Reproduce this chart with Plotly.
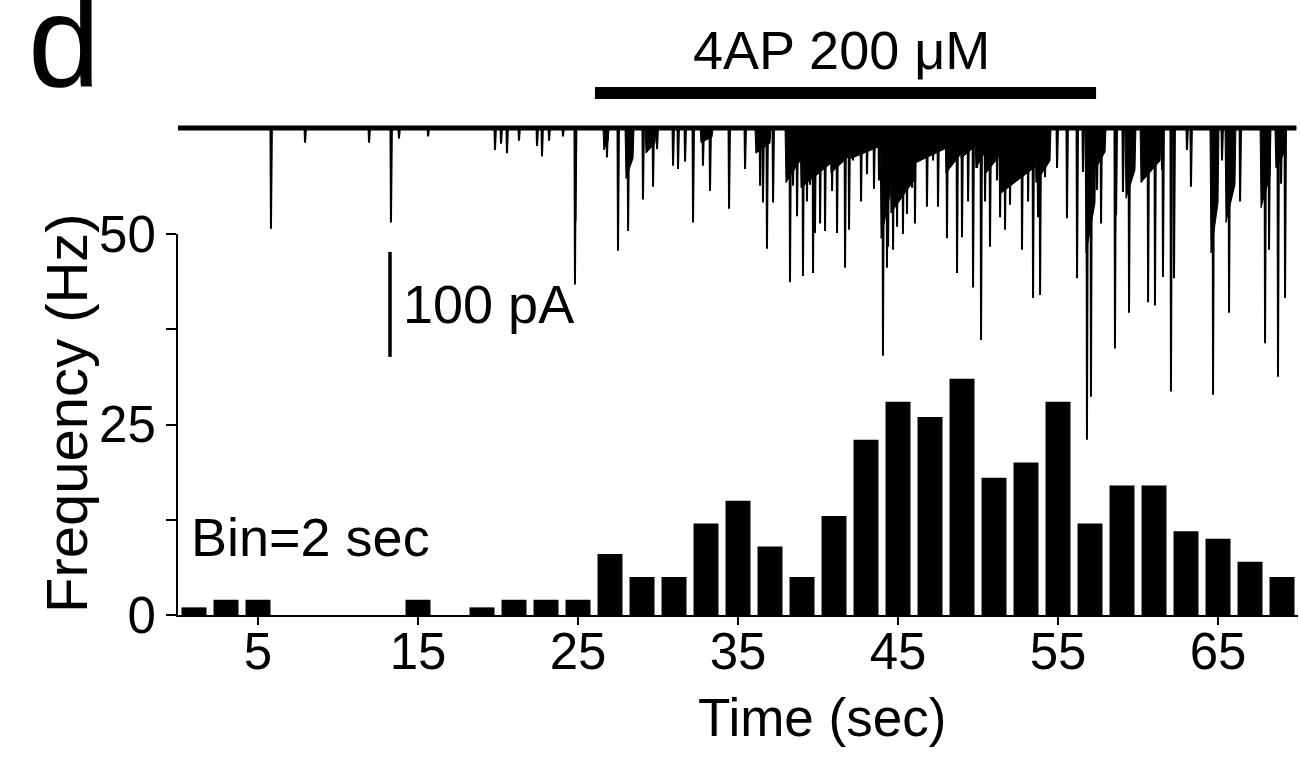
import plotly.graph_objects as go

# ---------------- data ----------------
bin_centers = [1 + 2 * i for i in range(35)]
freq_hz = [1, 2, 2, 0, 0, 0, 0, 2, 0, 1, 2, 2, 2, 8, 5, 5, 12, 15, 9, 5,
           13, 23, 28, 26, 31, 18, 20, 28, 12, 17, 17, 11, 10, 7, 5]

x_ticks = [5, 15, 25, 35, 45, 55, 65]
y_ticks = [0, 12.5, 25, 37.5, 50]
y_ticktext = ["0", "", "25", "", "50"]

# current trace: individual events (time s, amplitude pA, downward)
event_t = [5.81, 7.94, 11.94, 13.31, 13.81, 15.63, 19.81, 20.19, 20.56, 21.31,
           22.44, 22.75, 23.19, 24.06, 24.81, 24.84, 26.81, 27.5, 28.13, 29.06,
           29.69, 29.94, 30.94, 31.25, 31.69, 32.19, 32.81, 33.25, 34.44, 35.44,
           36.38, 36.56, 36.81, 37.19, 38.25, 38.44, 38.69, 39.06, 39.31, 39.5,
           39.69, 39.81, 40.13, 40.44, 40.88, 41.19, 41.69, 41.94, 42.19, 42.69,
           43.06, 43.5, 43.81, 44.06, 44.31, 44.38, 44.69, 44.94, 45.31, 45.56,
           45.88, 46.06, 46.38, 46.81, 47.19, 47.5, 48.06, 48.38, 48.69, 49.0,
           49.38, 49.69, 49.94, 50.19, 50.44, 50.75, 51.19, 51.38, 51.69, 52.0,
           52.38, 52.75, 53.13, 53.44, 53.75, 53.88, 54.19, 54.94, 55.56, 56.19,
           56.56, 56.81, 57.06, 57.44, 57.69, 58.56, 58.63, 59.06, 59.44, 60.63,
           61.06, 61.5, 61.56, 62.06, 62.25, 63.06, 63.31, 64.69, 65.25, 65.69,
           66.38, 67.94, 68.19, 68.75, 68.94, 69.19]
event_pa = [96, 14, 14, 90, 10, 8, 21, 15, 24, 12,
            17, 27, 12, 8, 149, 89, 28, 117, 98, 68,
            56, 20, 36, 39, 32, 90, 36, 60, 77, 39,
            55, 71, 115, 71, 147, 55, 84, 141, 70, 54,
            138, 100, 91, 98, 60, 100, 133, 97, 31, 70,
            44, 58, 50, 217, 133, 113, 116, 94, 101, 82,
            57, 91, 22, 75, 31, 75, 105, 35, 138, 104,
            70, 152, 38, 202, 70, 113, 50, 85, 97, 73,
            44, 116, 70, 162, 85, 159, 47, 38, 86, 143,
            42, 297, 256, 59, 91, 210, 83, 61, 176, 166,
            169, 40, 142, 251, 143, 21, 56, 254, 31, 176,
            70, 205, 116, 237, 53, 162]

# dense-activity envelope (start s, end s, peak depth pA)
burst_start = [26.56, 27.94, 29.19, 32.63, 36.06, 37.94, 38.88, 40.75, 42.0, 43.88,
               44.5, 46.06, 47.94, 48.88, 49.81, 50.44, 51.38, 53.56, 56.69, 57.31,
               59.19, 60.13, 64.5, 65.44, 67.63, 68.56]
burst_end = [26.88, 28.44, 29.81, 33.38, 37.0, 38.88, 40.75, 42.0, 43.88, 44.5,
             46.06, 47.94, 48.88, 49.81, 50.44, 51.38, 53.56, 54.5, 57.31, 57.94,
             59.81, 61.38, 65.0, 66.06, 68.25, 69.19]
burst_depth = [21, 48, 24, 14, 24, 52, 57, 43, 29, 105,
               81, 33, 43, 29, 38, 43, 62, 52, 119, 38,
               67, 52, 119, 90, 76, 38]

trace_start, trace_end = 0.0, 69.9
drug_start, drug_end = 26.06, 57.38
scalebar_t = 13.25
scalebar_top, scalebar_bottom = -118, -218

# ---------------- figure ----------------
FONT = "Liberation Sans, Arial, Helvetica, sans-serif"
W, H = 1300, 757
L, R, T, B = 178, 2, 0, 142
plot_h = H - T - B            # 615
y50_px = 234                  # pixel row of 50 Hz
ydom_top = (H - B - y50_px) / plot_h
base_px = 128                 # pixel row of trace baseline
px_per_pa = 1.05
y2_top = (base_px - T) / px_per_pa
y2_bot = -(H - B - base_px) / px_per_pa

fig = go.Figure()

fig.add_trace(go.Bar(x=bin_centers, y=freq_hz, marker=dict(color="black", line=dict(width=0)),
                     xaxis="x", yaxis="y", showlegend=False))

# envelope of dense events: fast rise, slowly decaying tail
ex, ey = [trace_start], [0]
for s, e, d in zip(burst_start, burst_end, burst_depth):
    ex += [s, s + 0.06, e, e + 0.06]
    ey += [0, -d, -0.6 * d, 0]
ex.append(trace_end)
ey.append(0)
fig.add_trace(go.Scatter(x=ex, y=ey, mode="lines", fill="tozeroy", fillcolor="black",
                         line=dict(color="black", width=1), xaxis="x", yaxis="y2",
                         showlegend=False, hoverinfo="skip"))

# baseline
fig.add_trace(go.Scatter(x=[trace_start, trace_end], y=[0, 0], mode="lines",
                         line=dict(color="black", width=5), xaxis="x", yaxis="y2",
                         showlegend=False, hoverinfo="skip"))

# spikes
sx, sy = [], []
for t, a in zip(event_t, event_pa):
    sx += [t - 0.03, t, t + 0.06, None]
    sy += [0, -a, 0, None]
fig.add_trace(go.Scatter(x=sx, y=sy, mode="lines", line=dict(color="black", width=2),
                         xaxis="x", yaxis="y2", showlegend=False, hoverinfo="skip",
                         connectgaps=False))

# 100 pA scale bar
fig.add_trace(go.Scatter(x=[scalebar_t, scalebar_t], y=[scalebar_top, scalebar_bottom],
                         mode="lines", line=dict(color="black", width=3.5),
                         xaxis="x", yaxis="y2", showlegend=False, hoverinfo="skip"))

def px_x(X):
    return (X - L) / (W - L - R)

def px_y(Y):
    return (H - B - Y) / plot_h

# drug application bar
fig.add_shape(type="rect", xref="x", yref="paper", x0=drug_start, x1=drug_end,
              y0=px_y(99), y1=px_y(87), fillcolor="black", line=dict(width=0))

ann = []
ann.append(dict(text="4AP 200 \u03bcM", x=px_x(841), y=px_y(50), xref="paper", yref="paper",
                showarrow=False, font=dict(size=54, family=FONT, color="black"),
                xanchor="center", yanchor="middle"))
ann.append(dict(text="100 pA", x=px_x(401), y=px_y(304), xref="paper", yref="paper",
                showarrow=False, font=dict(size=54, family=FONT, color="black"),
                xanchor="left", yanchor="middle"))
ann.append(dict(text="Bin=2 sec", x=px_x(189), y=px_y(537), xref="paper", yref="paper",
                showarrow=False, font=dict(size=54, family=FONT, color="black"),
                xanchor="left", yanchor="middle"))
ann.append(dict(text="Time (sec)", x=px_x(822), y=px_y(717), xref="paper", yref="paper",
                showarrow=False, font=dict(size=53, family=FONT, color="black"),
                xanchor="center", yanchor="middle"))
ann.append(dict(text="Frequency (Hz)", x=px_x(66), y=px_y(413), xref="paper", yref="paper",
                showarrow=False, textangle=-90, font=dict(size=58, family=FONT, color="black"),
                xanchor="center", yanchor="middle"))
ann.append(dict(text="d", x=px_x(64), y=px_y(41), xref="paper", yref="paper",
                showarrow=False, font=dict(size=130, family=FONT, color="black"),
                xanchor="center", yanchor="middle"))

fig.update_layout(
    width=W, height=H, template="none",
    margin=dict(l=L, r=R, t=T, b=B, pad=0, autoexpand=False),
    paper_bgcolor="white", plot_bgcolor="rgba(0,0,0,0)",
    bargap=0.22, showlegend=False, hovermode=False,
    font=dict(family=FONT, color="black"),
    xaxis=dict(range=[0, 70], tickvals=x_ticks, ticks="outside", ticklen=8, tickwidth=2,
               tickcolor="black", showline=True, linecolor="black", linewidth=2,
               showgrid=False, zeroline=False, anchor="y", ticklabelstandoff=-17,
               tickfont=dict(size=51, family=FONT, color="black"), automargin=False),
    yaxis=dict(domain=[0, ydom_top], range=[0, 50], tickvals=y_ticks, ticktext=y_ticktext,
               ticks="outside", ticklen=10, tickwidth=2, tickcolor="black",
               showline=True, linecolor="black", linewidth=2, showgrid=False, zeroline=False,
               tickfont=dict(size=51, family=FONT, color="black"), automargin=False,
               anchor="x"),
    yaxis2=dict(domain=[0, 1], range=[y2_bot, y2_top], visible=False, anchor="x",
                showgrid=False, zeroline=False),
    annotations=ann,
)

fig.write_html("out.html", config={"displayModeBar": False},
               post_script="document.body.style.margin='0px';")
